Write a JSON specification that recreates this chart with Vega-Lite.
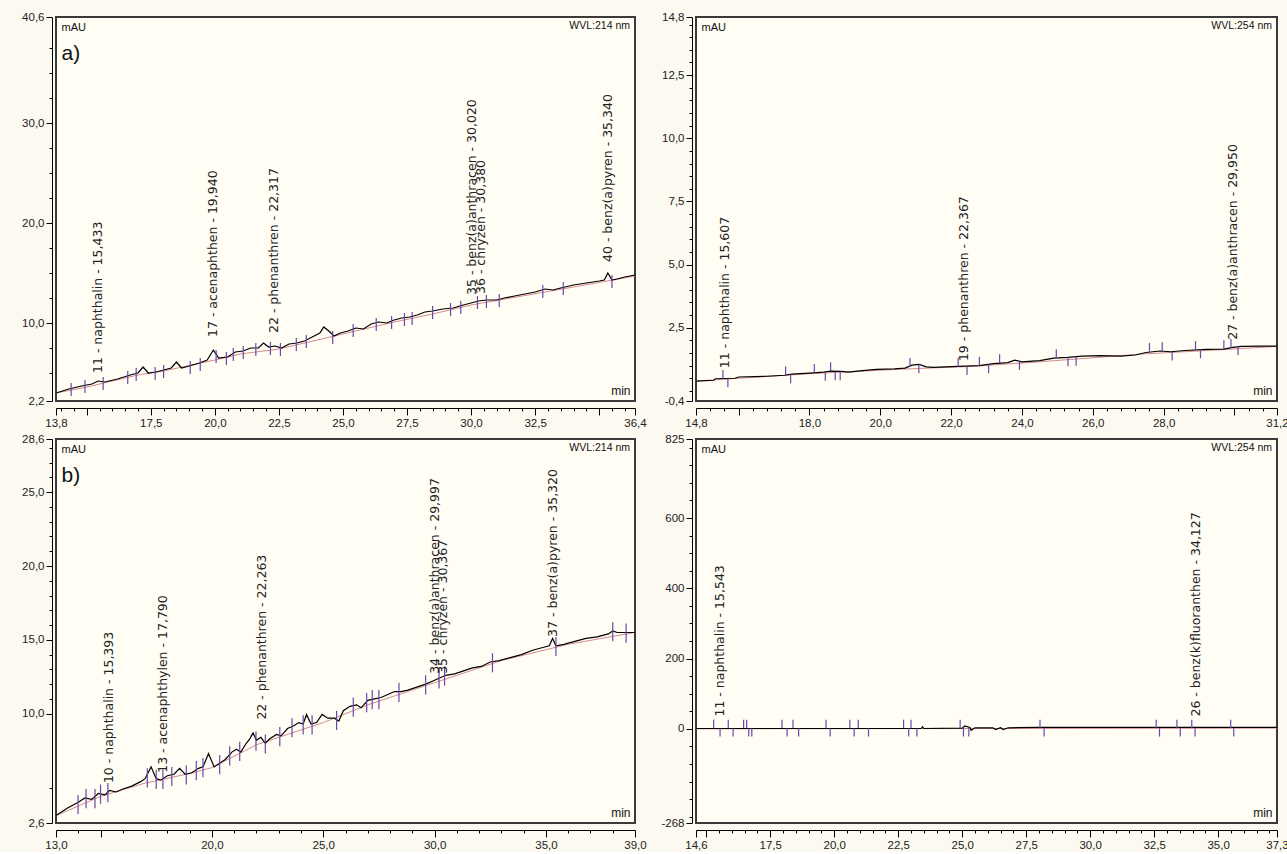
{
  "$schema": "https://vega.github.io/schema/vega-lite/v6.json",
  "background": "#fbf9f0",
  "padding": {"left": 20, "top": 10, "right": 0, "bottom": 0},
  "config": {
    "font": "Liberation Sans",
    "view": {"fill": "#fffdf4", "stroke": "#3a3a3a", "strokeWidth": 2},
    "axis": {"domainColor": "#000", "tickColor": "#000", "labelColor": "#222", "labelFontSize": 11.5, "labelFont": "Liberation Sans", "grid": false, "labelFlush": false, "labelOverlap": false, "titleFontWeight": "normal", "titleColor": "#111", "titleFont": "Liberation Sans", "labelPadding": 2}
  },
  "datasets": {
    "aTrace": [
      {"t":13.8,"v":3.0},{"t":14.3,"v":3.4},{"t":14.8,"v":3.7},{"t":15.2,"v":3.9},{"t":15.45,"v":4.2},{"t":15.7,"v":4.1},{"t":16.2,"v":4.4},{"t":16.7,"v":4.8},{"t":17.0,"v":5.0},{"t":17.2,"v":5.6},{"t":17.4,"v":5.0},{"t":17.7,"v":5.1},{"t":18.0,"v":5.3},{"t":18.3,"v":5.5},{"t":18.5,"v":6.1},{"t":18.7,"v":5.5},{"t":19.0,"v":5.7},{"t":19.4,"v":6.0},{"t":19.7,"v":6.3},{"t":19.94,"v":7.3},{"t":20.15,"v":6.5},{"t":20.5,"v":6.6},{"t":20.8,"v":7.1},{"t":21.1,"v":7.2},{"t":21.4,"v":7.5},{"t":21.7,"v":7.5},{"t":21.9,"v":8.0},{"t":22.1,"v":7.6},{"t":22.35,"v":7.7},{"t":22.6,"v":7.5},{"t":22.9,"v":7.9},{"t":23.2,"v":8.0},{"t":23.5,"v":8.2},{"t":23.8,"v":8.6},{"t":24.1,"v":9.0},{"t":24.25,"v":9.6},{"t":24.45,"v":9.2},{"t":24.65,"v":8.7},{"t":24.9,"v":9.0},{"t":25.2,"v":9.2},{"t":25.5,"v":9.5},{"t":25.8,"v":9.4},{"t":26.1,"v":9.9},{"t":26.4,"v":10.1},{"t":26.7,"v":10.0},{"t":27.0,"v":10.3},{"t":27.3,"v":10.5},{"t":27.6,"v":10.6},{"t":27.9,"v":10.8},{"t":28.2,"v":11.1},{"t":28.5,"v":11.2},{"t":28.9,"v":11.4},{"t":29.3,"v":11.5},{"t":29.7,"v":11.8},{"t":30.0,"v":12.0},{"t":30.3,"v":12.2},{"t":30.6,"v":12.3},{"t":31.0,"v":12.3},{"t":31.3,"v":12.5},{"t":31.7,"v":12.7},{"t":32.1,"v":12.9},{"t":32.5,"v":13.1},{"t":32.9,"v":13.4},{"t":33.2,"v":13.3},{"t":33.5,"v":13.5},{"t":34.0,"v":13.8},{"t":34.5,"v":14.0},{"t":35.0,"v":14.2},{"t":35.2,"v":14.3},{"t":35.34,"v":15.0},{"t":35.5,"v":14.3},{"t":35.7,"v":14.4},{"t":36.0,"v":14.6},{"t":36.4,"v":14.8}
    ],
    "aBase": [
      {"t":13.8,"v":3.0},{"t":15.0,"v":3.6},{"t":17.0,"v":4.8},{"t":18.0,"v":5.2},{"t":20.0,"v":6.3},{"t":21.0,"v":6.9},{"t":22.5,"v":7.4},{"t":24.0,"v":8.3},{"t":25.0,"v":8.9},{"t":27.0,"v":10.1},{"t":28.5,"v":10.9},{"t":30.0,"v":11.8},{"t":32.0,"v":12.7},{"t":34.0,"v":13.6},{"t":36.4,"v":14.7}
    ],
    "aMarks": [
      {"t":14.39,"lo":2.7,"hi":4.0},{"t":14.93,"lo":3.0,"hi":4.3},{"t":15.64,"lo":3.3,"hi":4.6},{"t":16.6,"lo":3.9,"hi":5.2},{"t":16.93,"lo":4.2,"hi":5.5},{"t":17.67,"lo":4.3,"hi":5.6},{"t":18.0,"lo":4.5,"hi":5.8},{"t":19.04,"lo":4.9,"hi":6.2},{"t":19.43,"lo":5.2,"hi":6.5},{"t":20.05,"lo":6.0,"hi":7.3},{"t":20.45,"lo":5.8,"hi":7.1},{"t":20.72,"lo":6.2,"hi":7.5},{"t":21.11,"lo":6.4,"hi":7.7},{"t":21.6,"lo":6.7,"hi":8.0},{"t":22.17,"lo":6.8,"hi":8.1},{"t":22.56,"lo":6.7,"hi":8.0},{"t":23.18,"lo":7.2,"hi":8.5},{"t":23.57,"lo":7.5,"hi":8.8},{"t":24.6,"lo":7.9,"hi":9.2},{"t":25.4,"lo":8.6,"hi":9.9},{"t":26.3,"lo":9.2,"hi":10.5},{"t":26.9,"lo":9.4,"hi":10.7},{"t":27.4,"lo":9.7,"hi":11.0},{"t":27.7,"lo":9.8,"hi":11.1},{"t":28.5,"lo":10.4,"hi":11.7},{"t":29.2,"lo":10.7,"hi":12.0},{"t":29.6,"lo":10.9,"hi":12.2},{"t":30.25,"lo":11.4,"hi":12.7},{"t":30.6,"lo":11.5,"hi":12.8},{"t":31.1,"lo":11.6,"hi":12.9},{"t":32.8,"lo":12.5,"hi":13.8},{"t":33.6,"lo":12.8,"hi":14.1},{"t":35.5,"lo":13.5,"hi":14.8}
    ],
    "aLabels": [
      {"t":15.433,"v":5.0,"label":"11 - naphthalin - 15,433"},
      {"t":19.94,"v":8.6,"label":"17 - acenaphthen - 19,940"},
      {"t":22.317,"v":9.0,"label":"22 - phenanthren - 22,317"},
      {"t":30.02,"v":12.8,"label":"35 - benz(a)anthracen - 30,020"},
      {"t":30.38,"v":12.9,"label":"36 - chryzen - 30,380"},
      {"t":35.34,"v":16.1,"label":"40 - benz(a)pyren - 35,340"}
    ],
    "bTrace": [
      {"t":14.8,"v":0.39},{"t":15.3,"v":0.42},{"t":15.35,"v":0.48},{"t":15.9,"v":0.5},{"t":16.0,"v":0.55},{"t":16.8,"v":0.58},{"t":17.3,"v":0.62},{"t":17.5,"v":0.66},{"t":18.0,"v":0.7},{"t":18.4,"v":0.74},{"t":18.6,"v":0.78},{"t":18.9,"v":0.77},{"t":19.1,"v":0.74},{"t":19.5,"v":0.8},{"t":19.9,"v":0.85},{"t":20.4,"v":0.87},{"t":20.7,"v":0.9},{"t":20.9,"v":1.02},{"t":21.1,"v":1.05},{"t":21.3,"v":0.95},{"t":21.5,"v":0.93},{"t":22.0,"v":0.96},{"t":22.4,"v":0.98},{"t":22.8,"v":1.0},{"t":23.2,"v":1.08},{"t":23.6,"v":1.12},{"t":23.8,"v":1.22},{"t":24.0,"v":1.15},{"t":24.5,"v":1.2},{"t":24.9,"v":1.3},{"t":25.3,"v":1.33},{"t":25.7,"v":1.38},{"t":26.2,"v":1.4},{"t":26.8,"v":1.38},{"t":27.2,"v":1.42},{"t":27.5,"v":1.52},{"t":27.9,"v":1.58},{"t":28.2,"v":1.55},{"t":28.6,"v":1.6},{"t":29.2,"v":1.64},{"t":29.7,"v":1.65},{"t":29.95,"v":1.72},{"t":30.2,"v":1.76},{"t":30.8,"v":1.77},{"t":31.2,"v":1.77}
    ],
    "bBase": [
      {"t":14.8,"v":0.39},{"t":18.0,"v":0.68},{"t":20.6,"v":0.86},{"t":22.4,"v":0.96},{"t":24.2,"v":1.12},{"t":27.4,"v":1.46},{"t":29.5,"v":1.62},{"t":31.2,"v":1.76}
    ],
    "bMarks": [
      {"t":15.56,"lo":0.48,"hi":0.83},{"t":15.7,"lo":0.14,"hi":0.49},{"t":17.33,"lo":0.62,"hi":0.97},{"t":17.47,"lo":0.3,"hi":0.65},{"t":18.14,"lo":0.71,"hi":1.06},{"t":18.45,"lo":0.4,"hi":0.75},{"t":18.6,"lo":0.78,"hi":1.13},{"t":18.73,"lo":0.42,"hi":0.77},{"t":18.87,"lo":0.42,"hi":0.77},{"t":20.84,"lo":0.95,"hi":1.3},{"t":21.09,"lo":0.7,"hi":1.05},{"t":22.2,"lo":0.96,"hi":1.31},{"t":22.45,"lo":0.63,"hi":0.98},{"t":22.8,"lo":1.0,"hi":1.35},{"t":23.06,"lo":0.7,"hi":1.05},{"t":23.37,"lo":1.1,"hi":1.45},{"t":23.93,"lo":0.83,"hi":1.18},{"t":24.97,"lo":1.3,"hi":1.65},{"t":25.3,"lo":0.98,"hi":1.33},{"t":25.53,"lo":1.0,"hi":1.35},{"t":27.6,"lo":1.55,"hi":1.9},{"t":27.96,"lo":1.58,"hi":1.93},{"t":28.24,"lo":1.2,"hi":1.55},{"t":28.9,"lo":1.62,"hi":1.97},{"t":29.04,"lo":1.29,"hi":1.64},{"t":29.7,"lo":1.65,"hi":2.0},{"t":29.9,"lo":1.7,"hi":2.05},{"t":30.1,"lo":1.41,"hi":1.76}
    ],
    "bLabels": [
      {"t":15.607,"v":0.9,"label":"11 - naphthalin - 15,607"},
      {"t":22.367,"v":1.18,"label":"19 - phenanthren - 22,367"},
      {"t":29.95,"v":2.02,"label":"27 - benz(a)anthracen - 29,950"}
    ],
    "cTrace": [
      {"t":13.0,"v":3.1},{"t":13.5,"v":3.6},{"t":14.0,"v":4.0},{"t":14.3,"v":4.3},{"t":14.6,"v":4.2},{"t":14.9,"v":4.6},{"t":15.2,"v":4.5},{"t":15.4,"v":4.8},{"t":15.7,"v":4.7},{"t":16.0,"v":4.9},{"t":16.4,"v":5.1},{"t":16.8,"v":5.4},{"t":17.0,"v":5.6},{"t":17.27,"v":6.4},{"t":17.5,"v":5.6},{"t":17.7,"v":5.5},{"t":18.0,"v":5.8},{"t":18.3,"v":5.9},{"t":18.55,"v":6.3},{"t":18.8,"v":5.9},{"t":19.1,"v":6.0},{"t":19.4,"v":6.3},{"t":19.6,"v":6.4},{"t":19.85,"v":7.3},{"t":20.1,"v":6.4},{"t":20.3,"v":6.6},{"t":20.6,"v":6.9},{"t":20.9,"v":7.4},{"t":21.1,"v":7.6},{"t":21.3,"v":7.4},{"t":21.5,"v":7.9},{"t":21.7,"v":8.3},{"t":21.85,"v":8.7},{"t":22.0,"v":8.2},{"t":22.2,"v":8.4},{"t":22.4,"v":8.0},{"t":22.6,"v":8.3},{"t":22.9,"v":8.6},{"t":23.1,"v":8.5},{"t":23.4,"v":9.0},{"t":23.7,"v":9.2},{"t":23.9,"v":9.4},{"t":24.1,"v":9.3},{"t":24.25,"v":9.95},{"t":24.45,"v":9.3},{"t":24.7,"v":9.4},{"t":24.95,"v":9.95},{"t":25.2,"v":9.7},{"t":25.5,"v":9.7},{"t":25.7,"v":9.5},{"t":25.9,"v":10.2},{"t":26.2,"v":10.5},{"t":26.5,"v":10.6},{"t":26.7,"v":10.4},{"t":27.0,"v":10.9},{"t":27.3,"v":11.0},{"t":27.6,"v":11.1},{"t":27.9,"v":11.3},{"t":28.2,"v":11.5},{"t":28.5,"v":11.5},{"t":28.8,"v":11.6},{"t":29.2,"v":11.8},{"t":29.6,"v":12.0},{"t":29.9,"v":12.2},{"t":30.2,"v":12.4},{"t":30.5,"v":12.6},{"t":30.9,"v":12.7},{"t":31.3,"v":12.9},{"t":31.7,"v":13.1},{"t":32.1,"v":13.2},{"t":32.5,"v":13.5},{"t":32.9,"v":13.6},{"t":33.4,"v":13.8},{"t":33.9,"v":14.0},{"t":34.4,"v":14.3},{"t":34.9,"v":14.5},{"t":35.15,"v":14.6},{"t":35.3,"v":15.1},{"t":35.45,"v":14.6},{"t":35.8,"v":14.7},{"t":36.3,"v":14.9},{"t":36.8,"v":15.1},{"t":37.3,"v":15.2},{"t":37.8,"v":15.4},{"t":38.0,"v":15.6},{"t":38.2,"v":15.5},{"t":38.6,"v":15.5},{"t":39.0,"v":15.5}
    ],
    "cBase": [
      {"t":13.0,"v":3.1},{"t":15.0,"v":4.4},{"t":17.0,"v":5.3},{"t":19.0,"v":5.95},{"t":20.0,"v":6.35},{"t":22.0,"v":7.9},{"t":24.0,"v":8.9},{"t":25.0,"v":9.4},{"t":27.0,"v":10.6},{"t":30.0,"v":12.1},{"t":33.0,"v":13.6},{"t":36.0,"v":14.7},{"t":39.0,"v":15.5}
    ],
    "cMarks": [
      {"t":13.99,"lo":3.2,"hi":4.5},{"t":14.35,"lo":3.6,"hi":4.9},{"t":14.75,"lo":3.6,"hi":4.9},{"t":15.0,"lo":3.9,"hi":5.2},{"t":15.33,"lo":4.0,"hi":5.3},{"t":17.1,"lo":5.0,"hi":6.3},{"t":17.5,"lo":4.9,"hi":6.2},{"t":17.8,"lo":4.9,"hi":6.2},{"t":18.2,"lo":5.1,"hi":6.4},{"t":18.85,"lo":5.2,"hi":6.5},{"t":19.3,"lo":5.5,"hi":6.8},{"t":19.6,"lo":5.7,"hi":7.0},{"t":20.35,"lo":5.9,"hi":7.2},{"t":20.8,"lo":6.5,"hi":7.8},{"t":21.25,"lo":6.8,"hi":8.1},{"t":21.98,"lo":7.5,"hi":8.8},{"t":22.4,"lo":7.3,"hi":8.6},{"t":23.05,"lo":7.8,"hi":9.1},{"t":23.6,"lo":8.4,"hi":9.7},{"t":24.1,"lo":8.6,"hi":9.9},{"t":24.5,"lo":8.6,"hi":9.9},{"t":25.6,"lo":8.9,"hi":10.2},{"t":26.35,"lo":9.8,"hi":11.1},{"t":26.95,"lo":10.1,"hi":11.4},{"t":27.2,"lo":10.3,"hi":11.6},{"t":27.5,"lo":10.3,"hi":11.6},{"t":28.4,"lo":10.8,"hi":12.1},{"t":29.6,"lo":11.3,"hi":12.6},{"t":30.2,"lo":11.7,"hi":13.0},{"t":30.45,"lo":11.9,"hi":13.2},{"t":32.6,"lo":12.8,"hi":14.1},{"t":35.45,"lo":13.9,"hi":15.2},{"t":38.0,"lo":14.9,"hi":16.2},{"t":38.6,"lo":14.8,"hi":16.1}
    ],
    "cLabels": [
      {"t":15.393,"v":5.3,"label":"10 - naphthalin - 15,393"},
      {"t":17.79,"v":6.0,"label":"13 - acenaphthylen - 17,790"},
      {"t":22.263,"v":9.6,"label":"22 - phenanthren - 22,263"},
      {"t":29.997,"v":12.7,"label":"34 - benz(a)anthracen - 29,997"},
      {"t":30.367,"v":12.7,"label":"35 - chryzen - 30,367"},
      {"t":35.32,"v":15.2,"label":"37 - benz(a)pyren - 35,320"}
    ],
    "dTrace": [
      {"t":14.6,"v":1},{"t":23.4,"v":1},{"t":23.45,"v":6},{"t":23.5,"v":1},{"t":25.0,"v":2},{"t":25.1,"v":8},{"t":25.3,"v":4},{"t":25.35,"v":-4},{"t":25.5,"v":3},{"t":26.2,"v":3},{"t":26.3,"v":-2},{"t":26.5,"v":3},{"t":26.6,"v":-2},{"t":26.8,"v":3},{"t":28.0,"v":4},{"t":37.3,"v":4}
    ],
    "dBase": [
      {"t":14.6,"v":0},{"t":37.3,"v":2}
    ],
    "dMarks": [
      {"t":15.29,"lo":2,"hi":26},{"t":15.54,"lo":-22,"hi":2},{"t":15.86,"lo":2,"hi":26},{"t":16.05,"lo":-22,"hi":2},{"t":16.46,"lo":2,"hi":26},{"t":16.58,"lo":2,"hi":26},{"t":16.66,"lo":-22,"hi":2},{"t":16.78,"lo":-22,"hi":2},{"t":17.96,"lo":2,"hi":26},{"t":18.16,"lo":-22,"hi":2},{"t":18.39,"lo":2,"hi":26},{"t":18.61,"lo":-22,"hi":2},{"t":19.68,"lo":2,"hi":26},{"t":19.84,"lo":-22,"hi":2},{"t":20.61,"lo":2,"hi":26},{"t":20.78,"lo":-22,"hi":2},{"t":20.94,"lo":2,"hi":26},{"t":21.34,"lo":-22,"hi":2},{"t":22.71,"lo":2,"hi":26},{"t":22.91,"lo":-22,"hi":2},{"t":23.0,"lo":2,"hi":26},{"t":23.23,"lo":-22,"hi":2},{"t":24.92,"lo":2,"hi":26},{"t":25.05,"lo":-22,"hi":2},{"t":25.26,"lo":-22,"hi":2},{"t":28.04,"lo":2,"hi":26},{"t":28.2,"lo":-22,"hi":2},{"t":32.58,"lo":2,"hi":26},{"t":32.71,"lo":-22,"hi":2},{"t":33.39,"lo":2,"hi":26},{"t":33.52,"lo":-22,"hi":2},{"t":33.97,"lo":2,"hi":26},{"t":34.1,"lo":-22,"hi":2},{"t":35.49,"lo":2,"hi":26},{"t":35.61,"lo":-22,"hi":2}
    ],
    "dLabels": [
      {"t":15.543,"v":35,"label":"11 - naphthalin - 15,543"},
      {"t":34.127,"v":35,"label":"26 - benz(k)fluoranthen - 34,127"}
    ]
  },
  "concat": [
    {
      "width": 579, "height": 384,
      "title": {"text": "WVL:214 nm", "anchor": "end", "orient": "top", "frame": "group", "offset": -20, "dx": -5, "fontSize": 10.5, "fontWeight": "normal", "font": "Liberation Sans", "color": "#111"},
      "layer": [
        {"data": {"name": "aBase"}, "mark": {"type": "line", "color": "#d48c8c", "strokeWidth": 1},
         "encoding": {
           "x": {"field": "t", "type": "quantitative", "scale": {"domain": [13.8, 36.4], "nice": false, "zero": false},
                 "axis": {"orient": "bottom", "offset": 7, "values": [14,14.5,15.5,16,16.5,17,18,18.5,19,19.5,20.5,21,21.5,22,23,23.5,24,24.5,25.5,26,26.5,27,28,28.5,29,29.5,30.5,31,31.5,32,33,33.5,34,34.5,35.5,36], "tickSize": 3, "labels": false, "domain": false, "title": null}},
           "y": {"field": "v", "type": "quantitative", "scale": {"domain": [2.2, 40.6], "nice": false, "zero": false},
                 "axis": {"orient": "left", "offset": 4, "values": [5,7.5,12.5,15,17.5,22.5,25,27.5,32.5,35,37.5], "tickSize": 3, "labels": false, "domain": false, "title": "a)", "titleAngle": 0, "titleAlign": "left", "titleBaseline": "middle", "titleX": 9, "titleY": 36, "titleFontSize": 21}}
         }},
        {"data": {"name": "aTrace"}, "mark": {"type": "line", "color": "#000", "strokeWidth": 1.2},
         "encoding": {
           "x": {"field": "t", "type": "quantitative", "scale": {"domain": [13.8, 36.4], "nice": false, "zero": false},
                 "axis": {"orient": "bottom", "offset": 7, "values": [13.8,15,17.5,20,22.5,25,27.5,30,32.5,35,36.4], "tickSize": 7, "labelExpr": "datum.value == 15 || datum.value == 35 ? '' : replace(format(datum.value, '.1f'), '.', ',')", "title": "min", "titleAlign": "right", "titleBaseline": "middle", "titleX": 574, "titleY": -18, "titleFontSize": 12}},
           "y": {"field": "v", "type": "quantitative", "scale": {"domain": [2.2, 40.6], "nice": false, "zero": false},
                 "axis": {"orient": "left", "offset": 4, "values": [2.2,10,20,30,40.6], "tickSize": 6, "labelExpr": "replace(format(datum.value, '.1f'), '.', ',')", "title": "mAU", "titleAngle": 0, "titleAlign": "left", "titleBaseline": "middle", "titleX": 9, "titleY": 10, "titleFontSize": 11}}
         }},
        {"data": {"name": "aMarks"}, "mark": {"type": "rule", "color": "#6b48a8", "strokeWidth": 1.2},
         "encoding": {
           "x": {"field": "t", "type": "quantitative", "scale": {"domain": [13.8, 36.4], "nice": false, "zero": false}, "axis": null},
           "y": {"field": "lo", "type": "quantitative", "scale": {"domain": [2.2, 40.6], "nice": false, "zero": false}, "axis": null},
           "y2": {"field": "hi"}
         }},
        {"data": {"name": "aLabels"}, "mark": {"type": "text", "angle": 270, "align": "left", "baseline": "middle", "font": "DejaVu Sans", "fontSize": 12.5, "color": "#222"},
         "encoding": {
           "x": {"field": "t", "type": "quantitative", "scale": {"domain": [13.8, 36.4], "nice": false, "zero": false}, "axis": null},
           "y": {"field": "v", "type": "quantitative", "scale": {"domain": [2.2, 40.6], "nice": false, "zero": false}, "axis": null},
           "text": {"field": "label"}
         }}
      ],
      "resolve": {"axis": {"x": "independent", "y": "independent"}}
    },
    {
      "width": 581, "height": 384,
      "title": {"text": "WVL:254 nm", "anchor": "end", "orient": "top", "frame": "group", "offset": -20, "dx": -5, "fontSize": 10.5, "fontWeight": "normal", "font": "Liberation Sans", "color": "#111"},
      "layer": [
        {"data": {"name": "bBase"}, "mark": {"type": "line", "color": "#d48c8c", "strokeWidth": 1},
         "encoding": {
           "x": {"field": "t", "type": "quantitative", "scale": {"domain": [14.8, 31.2], "nice": false, "zero": false},
                 "axis": {"orient": "bottom", "offset": 7, "values": [15.2,15.6,16.4,16.8,17.2,17.6,18.4,18.8,19.2,19.6,20.4,20.8,21.2,21.6,22.4,22.8,23.2,23.6,24.4,24.8,25.2,25.6,26.4,26.8,27.2,27.6,28.4,28.8,29.2,29.6,30.4,30.8], "tickSize": 3, "labels": false, "domain": false, "title": null}},
           "y": {"field": "v", "type": "quantitative", "scale": {"domain": [-0.4, 14.8], "nice": false, "zero": false},
                 "axis": {"orient": "left", "offset": 4, "values": [0,0.5,1,1.5,2,3,3.5,4,4.5,5.5,6,6.5,7,8,8.5,9,9.5,10.5,11,11.5,12,13,13.5,14,14.5], "tickSize": 3, "labels": false, "domain": false, "title": null}}
         }},
        {"data": {"name": "bTrace"}, "mark": {"type": "line", "color": "#000", "strokeWidth": 1.2},
         "encoding": {
           "x": {"field": "t", "type": "quantitative", "scale": {"domain": [14.8, 31.2], "nice": false, "zero": false},
                 "axis": {"orient": "bottom", "offset": 7, "values": [14.8,16,18,20,22,24,26,28,30,31.2], "tickSize": 7, "labelExpr": "datum.value == 16 || datum.value == 30 ? '' : replace(format(datum.value, '.1f'), '.', ',')", "title": "min", "titleAlign": "right", "titleBaseline": "middle", "titleX": 576, "titleY": -18, "titleFontSize": 12}},
           "y": {"field": "v", "type": "quantitative", "scale": {"domain": [-0.4, 14.8], "nice": false, "zero": false},
                 "axis": {"orient": "left", "offset": 4, "values": [-0.4,2.5,5,7.5,10,12.5,14.8], "tickSize": 6, "labelExpr": "replace(replace(format(datum.value, '.1f'), '.', ','), '\u2212', '-')", "title": "mAU", "titleAngle": 0, "titleAlign": "left", "titleBaseline": "middle", "titleX": 9, "titleY": 10, "titleFontSize": 11}}
         }},
        {"data": {"name": "bMarks"}, "mark": {"type": "rule", "color": "#6b48a8", "strokeWidth": 1.2},
         "encoding": {
           "x": {"field": "t", "type": "quantitative", "scale": {"domain": [14.8, 31.2], "nice": false, "zero": false}, "axis": null},
           "y": {"field": "lo", "type": "quantitative", "scale": {"domain": [-0.4, 14.8], "nice": false, "zero": false}, "axis": null},
           "y2": {"field": "hi"}
         }},
        {"data": {"name": "bLabels"}, "mark": {"type": "text", "angle": 270, "align": "left", "baseline": "middle", "font": "DejaVu Sans", "fontSize": 12.5, "color": "#222"},
         "encoding": {
           "x": {"field": "t", "type": "quantitative", "scale": {"domain": [14.8, 31.2], "nice": false, "zero": false}, "axis": null},
           "y": {"field": "v", "type": "quantitative", "scale": {"domain": [-0.4, 14.8], "nice": false, "zero": false}, "axis": null},
           "text": {"field": "label"}
         }}
      ],
      "resolve": {"axis": {"x": "independent", "y": "independent"}}
    },
    {
      "width": 579, "height": 384,
      "title": {"text": "WVL:214 nm", "anchor": "end", "orient": "top", "frame": "group", "offset": -20, "dx": -5, "fontSize": 10.5, "fontWeight": "normal", "font": "Liberation Sans", "color": "#111"},
      "layer": [
        {"data": {"name": "cBase"}, "mark": {"type": "line", "color": "#d48c8c", "strokeWidth": 1},
         "encoding": {
           "x": {"field": "t", "type": "quantitative", "scale": {"domain": [13, 39], "nice": false, "zero": false},
                 "axis": {"orient": "bottom", "offset": 7, "values": [14,16,17,18,19,21,22,23,24,26,27,28,29,31,32,33,34,36,37,38], "tickSize": 3, "labels": false, "domain": false, "title": null}},
           "y": {"field": "v", "type": "quantitative", "scale": {"domain": [2.6, 28.6], "nice": false, "zero": false},
                 "axis": {"orient": "left", "offset": 4, "values": [5,11,12,13,14,16,17,18,19,21,22,23,24,26,27,28], "tickSize": 3, "labels": false, "domain": false, "title": "b)", "titleAngle": 0, "titleAlign": "left", "titleBaseline": "middle", "titleX": 9, "titleY": 36, "titleFontSize": 21}}
         }},
        {"data": {"name": "cTrace"}, "mark": {"type": "line", "color": "#000", "strokeWidth": 1.2},
         "encoding": {
           "x": {"field": "t", "type": "quantitative", "scale": {"domain": [13, 39], "nice": false, "zero": false},
                 "axis": {"orient": "bottom", "offset": 7, "values": [13,15,20,25,30,35,39], "tickSize": 7, "labelExpr": "datum.value == 15 ? '' : replace(format(datum.value, '.1f'), '.', ',')", "title": "min", "titleAlign": "right", "titleBaseline": "middle", "titleX": 574, "titleY": -18, "titleFontSize": 12}},
           "y": {"field": "v", "type": "quantitative", "scale": {"domain": [2.6, 28.6], "nice": false, "zero": false},
                 "axis": {"orient": "left", "offset": 4, "values": [2.6,10,15,20,25,28.6], "tickSize": 6, "labelExpr": "replace(format(datum.value, '.1f'), '.', ',')", "title": "mAU", "titleAngle": 0, "titleAlign": "left", "titleBaseline": "middle", "titleX": 9, "titleY": 10, "titleFontSize": 11}}
         }},
        {"data": {"name": "cMarks"}, "mark": {"type": "rule", "color": "#6b48a8", "strokeWidth": 1.2},
         "encoding": {
           "x": {"field": "t", "type": "quantitative", "scale": {"domain": [13, 39], "nice": false, "zero": false}, "axis": null},
           "y": {"field": "lo", "type": "quantitative", "scale": {"domain": [2.6, 28.6], "nice": false, "zero": false}, "axis": null},
           "y2": {"field": "hi"}
         }},
        {"data": {"name": "cLabels"}, "mark": {"type": "text", "angle": 270, "align": "left", "baseline": "middle", "font": "DejaVu Sans", "fontSize": 12.5, "color": "#222"},
         "encoding": {
           "x": {"field": "t", "type": "quantitative", "scale": {"domain": [13, 39], "nice": false, "zero": false}, "axis": null},
           "y": {"field": "v", "type": "quantitative", "scale": {"domain": [2.6, 28.6], "nice": false, "zero": false}, "axis": null},
           "text": {"field": "label"}
         }}
      ],
      "resolve": {"axis": {"x": "independent", "y": "independent"}}
    },
    {
      "width": 581, "height": 384,
      "title": {"text": "WVL:254 nm", "anchor": "end", "orient": "top", "frame": "group", "offset": -20, "dx": -5, "fontSize": 10.5, "fontWeight": "normal", "font": "Liberation Sans", "color": "#111"},
      "layer": [
        {"data": {"name": "dBase"}, "mark": {"type": "line", "color": "#d48c8c", "strokeWidth": 1},
         "encoding": {
           "x": {"field": "t", "type": "quantitative", "scale": {"domain": [14.6, 37.3], "nice": false, "zero": false},
                 "axis": {"orient": "bottom", "offset": 7, "values": [15.5,16,16.5,17,18,18.5,19,19.5,20.5,21,21.5,22,23,23.5,24,24.5,25.5,26,26.5,27,28,28.5,29,29.5,30.5,31,31.5,32,33,33.5,34,34.5,35.5,36,36.5,37], "tickSize": 3, "labels": false, "domain": false, "title": null}},
           "y": {"field": "v", "type": "quantitative", "scale": {"domain": [-268, 825], "nice": false, "zero": false},
                 "axis": {"orient": "left", "offset": 4, "values": [-250,-200,-150,-100,-50,50,100,150,250,300,350,450,500,550,650,700,750,800], "tickSize": 3, "labels": false, "domain": false, "title": null}}
         }},
        {"data": {"name": "dTrace"}, "mark": {"type": "line", "color": "#000", "strokeWidth": 1.2},
         "encoding": {
           "x": {"field": "t", "type": "quantitative", "scale": {"domain": [14.6, 37.3], "nice": false, "zero": false},
                 "axis": {"orient": "bottom", "offset": 7, "values": [14.6,15,17.5,20,22.5,25,27.5,30,32.5,35,37.3], "tickSize": 7, "labelExpr": "datum.value == 15 ? '' : replace(format(datum.value, '.1f'), '.', ',')", "title": "min", "titleAlign": "right", "titleBaseline": "middle", "titleX": 576, "titleY": -18, "titleFontSize": 12}},
           "y": {"field": "v", "type": "quantitative", "scale": {"domain": [-268, 825], "nice": false, "zero": false},
                 "axis": {"orient": "left", "offset": 4, "values": [-268,0,200,400,600,825], "tickSize": 6, "labelExpr": "replace(format(datum.value, 'd'), '\u2212', '-')", "title": "mAU", "titleAngle": 0, "titleAlign": "left", "titleBaseline": "middle", "titleX": 9, "titleY": 10, "titleFontSize": 11}}
         }},
        {"data": {"name": "dMarks"}, "mark": {"type": "rule", "color": "#6b48a8", "strokeWidth": 1.2},
         "encoding": {
           "x": {"field": "t", "type": "quantitative", "scale": {"domain": [14.6, 37.3], "nice": false, "zero": false}, "axis": null},
           "y": {"field": "lo", "type": "quantitative", "scale": {"domain": [-268, 825], "nice": false, "zero": false}, "axis": null},
           "y2": {"field": "hi"}
         }},
        {"data": {"name": "dLabels"}, "mark": {"type": "text", "angle": 270, "align": "left", "baseline": "middle", "font": "DejaVu Sans", "fontSize": 12.5, "color": "#222"},
         "encoding": {
           "x": {"field": "t", "type": "quantitative", "scale": {"domain": [14.6, 37.3], "nice": false, "zero": false}, "axis": null},
           "y": {"field": "v", "type": "quantitative", "scale": {"domain": [-268, 825], "nice": false, "zero": false}, "axis": null},
           "text": {"field": "label"}
         }}
      ],
      "resolve": {"axis": {"x": "independent", "y": "independent"}}
    }
  ],
  "columns": 2,
  "spacing": {"row": 38, "column": 61},
  "bounds": "flush"
}
